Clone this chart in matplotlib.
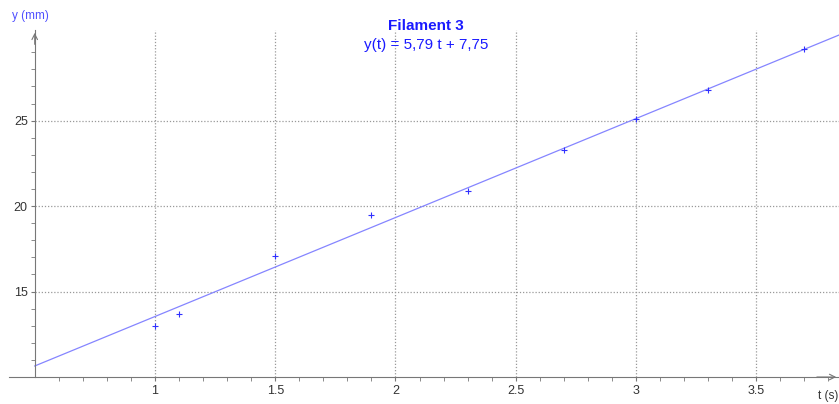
import numpy as np
import matplotlib
matplotlib.use("Agg")
import matplotlib.pyplot as plt

plt.rcParams['font.family'] = ['Liberation Sans', 'DejaVu Sans']

# mesures
t_mes = [1.0, 1.1, 1.5, 1.9, 2.3, 2.7, 3.0, 3.3, 3.7]
y_mes = [13.0, 13.7, 17.1, 19.5, 20.9, 23.3, 25.1, 26.8, 29.2]

# modele lineaire
pente = 5.79
origine = 7.75

x_ticks = [1, 1.5, 2, 2.5, 3, 3.5]
x_labels = ["1", "1.5", "2", "2.5", "3", "3.5"]
y_ticks = [15, 20, 25]

x0, x_min, x_max = 0.5, 0.393, 3.844
y_min, y_max = 10, 30.3

fig = plt.figure(figsize=(8.39, 4.04), dpi=100)
ax = fig.add_axes([0.0107, 0.0668, 0.9893, 0.8589])
ax.set_xlim(x_min, x_max)
ax.set_ylim(y_min, y_max)

for s in ['top', 'right']:
    ax.spines[s].set_visible(False)
ax.spines['left'].set_position(('data', x0))
ax.spines['left'].set_color('#777777')
ax.spines['bottom'].set_color('#777777')

# grille pointillee
ax.vlines(x_ticks, y_min, y_max, colors='#999999', linestyles=(0, (1, 1.5)), linewidth=0.9)
ax.hlines(y_ticks, x0, x_max, colors='#999999', linestyles=(0, (1, 1.5)), linewidth=0.9)

# droite
tt = np.array([x0, x_max])
ax.plot(tt, pente * tt + origine, color='#8585ff', linewidth=0.9)
ax.plot(t_mes, y_mes, '+', color='#3030ff', markersize=5, markeredgewidth=0.8)

ax.set_xticks(x_ticks)
ax.set_xticklabels(x_labels)
ax.set_xticks(np.arange(0.6, 3.81, 0.1), minor=True)
ax.set_yticks(y_ticks)
ax.set_yticks(np.arange(11, 30, 1), minor=True)
ax.tick_params(which='both', length=3, color='#777777', labelsize=9, labelcolor='#333333')
ax.tick_params(axis='x', pad=3)
ax.tick_params(axis='y', pad=2)

# fleches
ax.annotate('', xy=(1.0, 0), xytext=(0.97, 0), xycoords='axes fraction',
            arrowprops=dict(arrowstyle='->', color='#777777', lw=0.8))
ax.annotate('', xy=(x0, y_max), xytext=(x0, y_max - 1.0),
            arrowprops=dict(arrowstyle='->', color='#777777', lw=0.8))

fig.text(0.014, 0.952, 'y (mm)', color='#5050ff', fontsize=8.5, ha='left')
fig.text(0.999, 0.012, 't (s)', color='#333333', fontsize=8.5, ha='right')

fig.text(0.508, 0.925, 'Filament 3', color='#1a1aff', fontsize=11, fontweight='bold', ha='center')
fig.text(0.508, 0.878, 'y(t) = 5,79 t + 7,75', color='#1a1aff', fontsize=11, ha='center')

fig.savefig('out.png', dpi=100)
